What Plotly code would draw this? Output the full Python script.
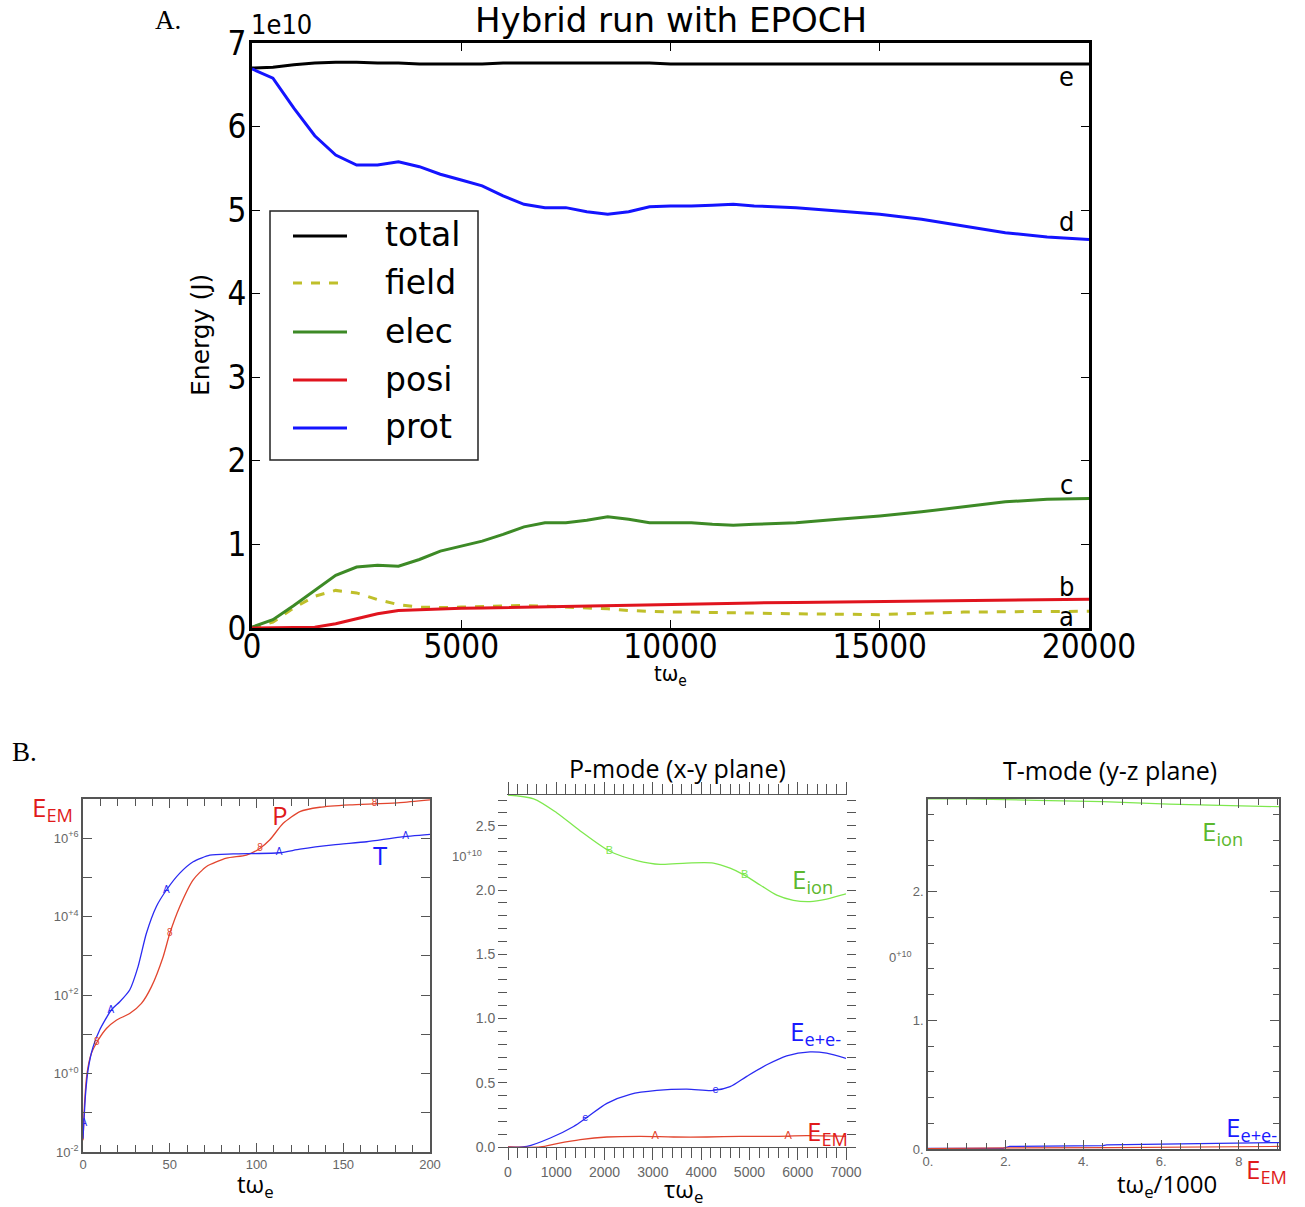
import numpy as np
import plotly.graph_objects as go

# ---------------- Panel A data (energy in units of 1e10 J) ----------------
A_t = [0, 500, 1000, 1500, 2000, 2500, 3000, 3500, 4000, 4500, 5000, 5500, 6000,
       6500, 7000, 7500, 8000, 8500, 9000, 9500, 10000, 10500, 11000, 11500, 12000,
       13000, 14000, 15000, 16000, 17000, 18000, 19000, 20000]
A_total = [6.70, 6.71, 6.74, 6.76, 6.77, 6.77, 6.76, 6.76, 6.75, 6.75, 6.75, 6.75, 6.76,
           6.76, 6.76, 6.76, 6.76, 6.76, 6.76, 6.76, 6.75, 6.75, 6.75, 6.75, 6.75,
           6.75, 6.75, 6.75, 6.75, 6.75, 6.75, 6.75, 6.75]
A_field = [0.00, 0.07, 0.24, 0.38, 0.45, 0.42, 0.34, 0.28, 0.25, 0.245, 0.25, 0.255, 0.26,
           0.27, 0.26, 0.25, 0.24, 0.23, 0.21, 0.20, 0.19, 0.19, 0.185, 0.18, 0.18,
           0.17, 0.165, 0.16, 0.175, 0.19, 0.195, 0.20, 0.20]
A_elec = [0.01, 0.10, 0.27, 0.45, 0.63, 0.73, 0.75, 0.74, 0.82, 0.92, 0.98, 1.04, 1.12,
          1.21, 1.26, 1.26, 1.29, 1.33, 1.30, 1.26, 1.26, 1.26, 1.24, 1.23, 1.24,
          1.26, 1.30, 1.34, 1.39, 1.45, 1.51, 1.54, 1.55]
A_posi = [0.00, 0.00, 0.005, 0.01, 0.05, 0.11, 0.17, 0.21, 0.22, 0.23, 0.235, 0.24, 0.245,
          0.25, 0.255, 0.26, 0.265, 0.27, 0.275, 0.28, 0.285, 0.29, 0.29, 0.295, 0.30,
          0.305, 0.31, 0.32, 0.325, 0.33, 0.335, 0.34, 0.345]
A_prot = [6.69, 6.58, 6.22, 5.89, 5.66, 5.54, 5.54, 5.58, 5.52, 5.43, 5.36, 5.29, 5.17,
          5.07, 5.03, 5.03, 4.98, 4.95, 4.98, 5.04, 5.05, 5.05, 5.06, 5.07, 5.05,
          5.03, 4.99, 4.95, 4.89, 4.81, 4.73, 4.68, 4.65]
A_names = ["total", "field", "elec", "posi", "prot"]
A_end_labels = ["e", "d", "c", "b", "a"]
A_xticks = [0, 5000, 10000, 15000, 20000]
A_yticks = [0, 1, 2, 3, 4, 5, 6, 7]

# ---------------- Panel B1 data (log10 of E_EM) ----------------
P_t = [0, 1, 2.3, 4.8, 8.7, 13.5, 19.2, 26.9, 33.7, 39.4, 46.2, 50, 55.8, 63.5, 71.2,
       82.7, 94.2, 101.9, 107.7, 115.4, 125, 136.5, 153.8, 169.2, 182.7, 200]
P_log = [-1.7, -0.68, 0.0, 0.51, 0.85, 1.15, 1.36, 1.53, 1.79, 2.21, 2.98, 3.57, 4.26, 4.94,
         5.28, 5.49, 5.57, 5.74, 5.96, 6.38, 6.68, 6.79, 6.85, 6.88, 6.91, 6.98]
T_t = [0, 1.5, 2.9, 5.8, 9.6, 16.3, 21.2, 26.9, 31.7, 36.5, 42.3, 48.1, 55.8, 63.5, 73.1,
       86.5, 113.5, 125, 144.2, 163.5, 182.7, 200]
T_log = [-1.66, -0.51, 0.09, 0.68, 1.11, 1.62, 1.83, 2.13, 2.72, 3.57, 4.26, 4.68, 5.11,
         5.40, 5.57, 5.60, 5.63, 5.72, 5.83, 5.91, 6.03, 6.10]
P_mark_t = [8, 50, 102, 168]
T_mark_t = [0.5, 16, 48, 113, 186]
B1_xticks = [0, 50, 100, 150, 200]
B1_decades = [-2, -1, 0, 1, 2, 3, 4, 5, 6, 7]

# ---------------- Panel B2 data (units of 1e10) ----------------
P2_ion_t = [0, 531, 1014, 1497, 2117, 2669, 3152, 3703, 4255, 4600, 4876, 5221, 5566,
            5910, 6255, 6600, 7000]
P2_ion = [2.74, 2.71, 2.60, 2.46, 2.30, 2.23, 2.20, 2.21, 2.21, 2.17, 2.12, 2.04, 1.96,
          1.92, 1.91, 1.93, 1.97]
P2_ee_t = [0, 393, 876, 1359, 1634, 2048, 2531, 3083, 3703, 4255, 4600, 4945, 5359,
           5772, 6255, 6600, 7000]
P2_ee = [0.0, 0.005, 0.07, 0.16, 0.23, 0.34, 0.41, 0.44, 0.45, 0.44, 0.47, 0.55, 0.64,
         0.71, 0.74, 0.73, 0.69]
P2_em_t = [0, 669, 1014, 1497, 2048, 2738, 3428, 4117, 4807, 5497, 6186, 7000]
P2_em = [0.0, 0.0, 0.026, 0.057, 0.078, 0.083, 0.078, 0.078, 0.083, 0.083, 0.088, 0.083]
P2_ion_mark = [2100, 4900]
P2_ee_mark = [1600, 4300]
P2_em_mark = [3050, 5800]
B2_yticks = [0.0, 0.5, 1.0, 1.5, 2.0, 2.5]

# ---------------- Panel B3 data (units of 1e10, t in 1000/omega_e) ----------------
T3_ion_t = [0, 1.0, 2.79, 4.5, 6.2, 7.9, 9.03]
T3_ion = [2.72, 2.72, 2.71, 2.70, 2.68, 2.67, 2.66]
T3_ee_t = [0, 1.93, 2.1, 3.0, 4.5, 4.6, 6.2, 7.9, 8.5, 9.03]
T3_ee = [0.005, 0.005, 0.02, 0.022, 0.026, 0.032, 0.04, 0.047, 0.05, 0.05]
T3_em_t = [0, 2.0, 2.2, 4.7, 6.0, 7.9, 9.03]
T3_em = [0.004, 0.004, 0.008, 0.01, 0.014, 0.018, 0.02]
B3_xticks = [0, 2, 4, 6, 8]
B3_xlabels = ["0.", "2.", "4.", "6.", "8"]
B3_yticks = [0, 1, 2]
B3_ylabels = ["0.", "1.", "2."]

W, H = 1305, 1207
fig = go.Figure()


def px_x(p):
    return p / W


def px_y(p):
    return 1 - p / H


# ---- panel A traces ----
A_values = [A_total, A_field, A_elec, A_posi, A_prot]
A_colors = ["#000000", "#bfbf2a", "#3d8a26", "#e0141e", "#1414ff"]
A_dashes = ["solid", "dash", "solid", "solid", "solid"]
for name, ys, col, dash in zip(A_names, A_values, A_colors, A_dashes):
    fig.add_trace(go.Scatter(x=A_t, y=ys, name=name, mode="lines",
                             line=dict(color=col, width=3, dash=dash),
                             xaxis="x", yaxis="y", showlegend=False))

# ---- panel B1 traces ----
red_b, blue_b, green_b = "#e2452e", "#2a2af2", "#7ee84e"
fig.add_trace(go.Scatter(x=P_t, y=[10 ** v for v in P_log], mode="lines", name="P",
                         line=dict(color=red_b, width=1.3, shape="spline", smoothing=0.6),
                         xaxis="x2", yaxis="y2", showlegend=False))
fig.add_trace(go.Scatter(x=T_t, y=[10 ** v for v in T_log], mode="lines", name="T",
                         line=dict(color=blue_b, width=1.3, shape="spline", smoothing=0.6),
                         xaxis="x2", yaxis="y2", showlegend=False))
fig.add_trace(go.Scatter(x=P_mark_t, y=[10 ** v for v in np.interp(P_mark_t, P_t, P_log)],
                         mode="text", text=["8"] * len(P_mark_t),
                         textfont=dict(color=red_b, size=10, family="Liberation Sans"),
                         xaxis="x2", yaxis="y2", showlegend=False))
fig.add_trace(go.Scatter(x=T_mark_t, y=[10 ** v for v in np.interp(T_mark_t, T_t, T_log)],
                         mode="text", text=["A"] * len(T_mark_t),
                         textfont=dict(color=blue_b, size=10, family="Liberation Sans"),
                         xaxis="x2", yaxis="y2", showlegend=False))

# ---- panel B2 traces ----
for tt, yy, col in [(P2_ion_t, P2_ion, green_b), (P2_ee_t, P2_ee, blue_b), (P2_em_t, P2_em, red_b)]:
    fig.add_trace(go.Scatter(x=tt, y=yy, mode="lines",
                             line=dict(color=col, width=1.3, shape="spline", smoothing=0.8),
                             xaxis="x3", yaxis="y3", showlegend=False))
for mt, tt, yy, col, ch in [(P2_ion_mark, P2_ion_t, P2_ion, green_b, "B"),
                            (P2_ee_mark, P2_ee_t, P2_ee, blue_b, "e"),
                            (P2_em_mark, P2_em_t, P2_em, red_b, "A")]:
    fig.add_trace(go.Scatter(x=mt, y=list(np.interp(mt, tt, yy)), mode="text",
                             text=[ch] * len(mt),
                             textfont=dict(color=col, size=11, family="Liberation Sans"),
                             xaxis="x3", yaxis="y3", showlegend=False))

# ---- panel B3 traces ----
for tt, yy, col in [(T3_ion_t, T3_ion, green_b), (T3_ee_t, T3_ee, blue_b), (T3_em_t, T3_em, red_b)]:
    fig.add_trace(go.Scatter(x=tt, y=yy, mode="lines", line=dict(color=col, width=1.2),
                             xaxis="x4", yaxis="y4", showlegend=False))

gray = "#555555"
tick_gray = dict(family="Liberation Sans", size=13, color="#666666")
a_tick_font = dict(family="DejaVu Sans Condensed, DejaVu Sans", size=33, color="black")

layout = dict(
    width=W, height=H, autosize=False,
    margin=dict(l=0, r=0, t=0, b=0, pad=0),
    paper_bgcolor="white", plot_bgcolor="white",
    showlegend=False,
    # Panel A
    xaxis=dict(domain=[px_x(252), px_x(1089)], range=[0, 20000], anchor="y", automargin=False,
               showline=True, linewidth=3, linecolor="black", mirror="allticks",
               ticks="inside", ticklen=8, tickwidth=1, tickcolor="black",
               tickvals=A_xticks, ticktext=[str(v) for v in A_xticks],
               ticklabelstandoff=-13,
               tickfont=a_tick_font, showgrid=False, zeroline=False),
    yaxis=dict(domain=[px_y(628), px_y(43)], range=[0, 7], anchor="x", automargin=False,
               showline=True, linewidth=3, linecolor="black", mirror="allticks",
               ticks="inside", ticklen=8, tickwidth=1, tickcolor="black",
               tickvals=A_yticks, ticktext=[str(v) for v in A_yticks],
               ticklabelstandoff=-4,
               tickfont=a_tick_font, showgrid=False, zeroline=False),
    # Panel B1
    xaxis2=dict(domain=[px_x(83), px_x(430)], range=[0, 200], anchor="y2", automargin=False,
                showline=True, linewidth=1.5, linecolor=gray, mirror="allticks",
                ticks="inside", ticklen=9, tickcolor=gray,
                tickvals=B1_xticks, ticktext=[str(v) for v in B1_xticks],
                minor=dict(dtick=10, ticks="inside", ticklen=7, tickcolor=gray),
                tickfont=tick_gray, showgrid=False, zeroline=False),
    yaxis2=dict(domain=[px_y(1152), px_y(799)], type="log", range=[-2, 7], anchor="x2",
                automargin=False,
                showline=True, linewidth=1.5, linecolor=gray, mirror="allticks",
                ticks="inside", ticklen=9, tickcolor=gray,
                tickvals=[10 ** k for k in B1_decades],
                ticktext=[("10<sup>%+d</sup>" % k if k % 2 == 0 else "") for k in B1_decades],
                tickfont=tick_gray, showgrid=False, zeroline=False),
    # Panel B2
    xaxis3=dict(domain=[px_x(508), px_x(846)], range=[0, 7000], anchor="y3", automargin=False,
                showline=True, linewidth=1.2, linecolor=gray, mirror="allticks",
                ticks="outside", ticklen=12, tickcolor=gray, dtick=1000, tick0=0,
                minor=dict(dtick=200, ticks="outside", ticklen=10, tickcolor=gray),
                tickfont=dict(family="Liberation Sans", size=14, color="#666666"),
                showgrid=False, zeroline=False),
    yaxis3=dict(domain=[px_y(1147), px_y(795)], range=[0, 2.74], anchor="x3", automargin=False,
                showline=True, linewidth=1, linecolor="rgba(0,0,0,0)", mirror="allticks",
                ticks="outside", ticklen=9, tickcolor=gray,
                tickvals=B2_yticks, ticktext=["%.1f" % v for v in B2_yticks],
                minor=dict(dtick=0.1, ticks="outside", ticklen=9, tickcolor=gray),
                tickfont=dict(family="Liberation Sans", size=14, color="#666666"),
                showgrid=False, zeroline=False),
    # Panel B3
    xaxis4=dict(domain=[px_x(928), px_x(1279)], range=[0, 9.03], anchor="y4", automargin=False,
                showline=True, linewidth=1.5, linecolor=gray, mirror="allticks",
                ticks="inside", ticklen=9, tickcolor=gray,
                tickvals=B3_xticks, ticktext=B3_xlabels,
                minor=dict(dtick=0.5, ticks="inside", ticklen=6, tickcolor=gray),
                tickfont=tick_gray, showgrid=False, zeroline=False),
    yaxis4=dict(domain=[px_y(1149), px_y(799)], range=[0, 2.72], anchor="x4", automargin=False,
                showline=True, linewidth=1.5, linecolor=gray, mirror="allticks",
                ticks="inside", ticklen=9, tickcolor=gray,
                tickvals=B3_yticks, ticktext=B3_ylabels,
                minor=dict(dtick=0.2, ticks="inside", ticklen=6, tickcolor=gray),
                tickfont=tick_gray, showgrid=False, zeroline=False),
)
fig.update_layout(**layout)


def ann(x, y, text, size, color="black", family="DejaVu Sans", xanchor="center",
        yanchor="middle", angle=0):
    fig.add_annotation(x=px_x(x), y=px_y(y), xref="paper", yref="paper", text=text,
                       showarrow=False, font=dict(size=size, color=color, family=family),
                       xanchor=xanchor, yanchor=yanchor, textangle=angle)


# ---- Panel A legend (box, line samples and names) ----
fig.add_shape(type="rect", xref="paper", yref="paper",
              x0=px_x(270), x1=px_x(478), y0=px_y(460), y1=px_y(211),
              line=dict(color="#222222", width=1.5), fillcolor="white", layer="above")
leg_rows = [236, 283, 332, 380, 428]
for name, col, dash, yy in zip(A_names, A_colors, A_dashes, leg_rows):
    fig.add_shape(type="line", xref="paper", yref="paper",
                  x0=px_x(293), x1=px_x(347), y0=px_y(yy), y1=px_y(yy),
                  line=dict(color=col, width=3, dash=dash), layer="above")
    ann(383, yy - 1, name, 33, xanchor="left")

# Panel A texts
ann(168, 20, "A.", 27, family="Liberation Serif")
ann(671, 20, "Hybrid run with EPOCH", 34)
ann(249, 24, "1e10", 27, xanchor="left", family="DejaVu Sans Condensed, DejaVu Sans")
ann(200, 335, "Energy (J)", 25, angle=-90)
ann(670, 676, "tω<sub>e</sub>", 22, family="DejaVu Sans Condensed, DejaVu Sans")
for lab, yy in zip(A_end_labels, [77, 222, 485, 586, 616]):
    ann(1066, yy, lab, 27, family="DejaVu Sans Condensed, DejaVu Sans")

# Panel B texts
ann(25, 752, "B.", 27, family="Liberation Serif")
red_t, blue_t, green_t = "#e01a1a", "#1a1aff", "#5cb82e"
ann(52, 808, "E<sub>EM</sub>", 26, color=red_t, family="Open Sans")
ann(280, 815, "P", 26, color=red_t, family="Open Sans")
ann(380, 855, "T", 26, color=blue_t, family="Open Sans")
ann(255, 1185, "tω<sub>e</sub>", 24, family="Open Sans")

ann(677, 768, "P-mode (x-y plane)", 25, family="Open Sans")
ann(467, 856, "10<sup>+10</sup>", 13, color="#666666", family="Liberation Sans")
ann(812, 880, "E<sub>ion</sub>", 26, color=green_t, family="Open Sans")
ann(815, 1032, "E<sub>e+e-</sub>", 26, color=blue_t, family="Open Sans")
ann(827, 1132, "E<sub>EM</sub>", 26, color=red_t, family="Open Sans")
ann(683, 1190, "τω<sub>e</sub>", 24, family="Open Sans")

ann(1110, 770, "T-mode (y-z plane)", 25, family="Open Sans")
ann(900, 957, "0<sup>+10</sup>", 13, color="#666666", family="Liberation Sans")
ann(1222, 832, "E<sub>ion</sub>", 26, color=green_t, family="Open Sans")
ann(1251, 1128, "E<sub>e+e-</sub>", 26, color=blue_t, family="Open Sans")
ann(1266, 1170, "E<sub>EM</sub>", 26, color=red_t, family="Open Sans")
ann(1167, 1185, "tω<sub>e</sub>/1000", 24, family="Open Sans")

fig.write_html("out.html", config={"displayModeBar": False},
               post_script="document.body.style.margin='0';document.body.style.padding='0';")
